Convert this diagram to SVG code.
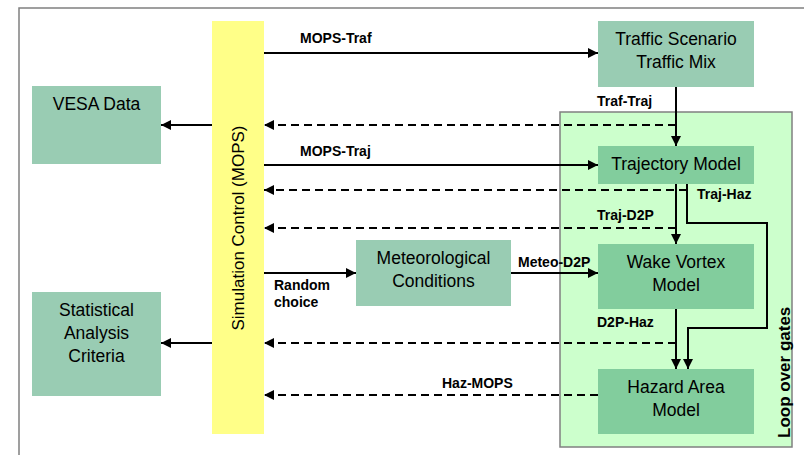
<svg xmlns="http://www.w3.org/2000/svg" width="804" height="455" viewBox="0 0 804 455">
<style>
.box{fill:#99ccb3}
.dark{fill:#82cd9d}
.t{font-family:"Liberation Sans",Arial,sans-serif;font-size:17.5px;fill:#000;text-anchor:middle}
.l{font-family:"Liberation Sans",Arial,sans-serif;font-size:14px;font-weight:bold;fill:#000}
.s{fill:none;stroke:#000;stroke-width:2}
.d{fill:none;stroke:#000;stroke-width:2;stroke-dasharray:8 5}
</style>
<defs>
<marker id="ah" viewBox="0 0 10 10" refX="10" refY="5" markerWidth="5" markerHeight="5" orient="auto" markerUnits="strokeWidth">
<path d="M0,0 L10,5 L0,10 Z" fill="#000"/>
</marker>
</defs>
<rect x="0" y="0" width="804" height="455" fill="#fff"/>
<rect x="19" y="8" width="820" height="470" fill="none" stroke="#808080" stroke-width="1.5"/>
<g id="loop">
<rect x="560" y="112" width="232" height="335" fill="#ccffcc" stroke="#808080" stroke-width="1.5"/>
<text class="l" style="font-size:17px" transform="translate(790,438) rotate(-90)">Loop over gates</text>
</g>
<g id="mops">
<rect x="212" y="21" width="52" height="413" fill="#ffff88"/>
<text class="t" style="font-size:17px" transform="translate(244,228) rotate(-90)">Simulation Control (MOPS)</text>
</g>
<g id="vesa">
<rect class="box" x="32" y="86" width="129" height="78"/>
<text class="t" x="96.5" y="110">VESA Data</text>
</g>
<g id="stat">
<rect class="box" x="32" y="292" width="129" height="104"/>
<text class="t" x="96.5" y="316">Statistical</text>
<text class="t" x="96.5" y="339">Analysis</text>
<text class="t" x="96.5" y="362">Criteria</text>
</g>
<g id="traffic">
<rect class="box" x="598" y="21" width="156" height="66"/>
<text class="t" x="676" y="45">Traffic Scenario</text>
<text class="t" x="676" y="68">Traffic Mix</text>
</g>
<g id="traj">
<rect class="dark" x="598" y="146" width="156" height="38"/>
<text class="t" x="676" y="170">Trajectory Model</text>
</g>
<g id="meteo">
<rect class="box" x="356" y="240" width="155" height="66"/>
<text class="t" x="433.5" y="264">Meteorological</text>
<text class="t" x="433.5" y="287">Conditions</text>
</g>
<g id="wake">
<rect class="dark" x="598" y="244" width="156" height="65"/>
<text class="t" x="676" y="268">Wake Vortex</text>
<text class="t" x="676" y="291">Model</text>
</g>
<g id="hazard">
<rect class="dark" x="598" y="369" width="156" height="65"/>
<text class="t" x="676" y="393">Hazard Area</text>
<text class="t" x="676" y="416">Model</text>
</g>
<g id="connectors">
<path class="s" d="M212,125 H161" marker-end="url(#ah)"/>
<path class="s" d="M212,343 H161" marker-end="url(#ah)"/>
<path class="s" d="M264,53 H598" marker-end="url(#ah)"/>
<path class="s" d="M264,165 H598" marker-end="url(#ah)"/>
<path class="s" d="M264,273 H356" marker-end="url(#ah)"/>
<path class="s" d="M511,273 H598" marker-end="url(#ah)"/>
<path class="s" d="M676,87 V146" marker-end="url(#ah)"/>
<path class="s" d="M676,184 V244" marker-end="url(#ah)"/>
<path class="s" d="M676,309 V369" marker-end="url(#ah)"/>
<path class="s" d="M687,184 V223 H767 V328 H688 V369" marker-end="url(#ah)"/>
<path class="d" d="M676,125 H264" marker-end="url(#ah)"/>
<path class="d" d="M687,190 H264" marker-end="url(#ah)"/>
<path class="d" d="M676,228 H264" marker-end="url(#ah)"/>
<path class="d" d="M676,343 H264" marker-end="url(#ah)"/>
<path class="d" d="M598,395 H264" marker-end="url(#ah)"/>
<text class="l" x="300" y="43">MOPS-Traf</text>
<text class="l" x="300" y="156">MOPS-Traj</text>
<text class="l" x="597" y="106">Traf-Traj</text>
<text class="l" x="697" y="199">Traj-Haz</text>
<text class="l" x="597" y="220">Traj-D2P</text>
<text class="l" x="274" y="290">Random</text>
<text class="l" x="274" y="307">choice</text>
<text class="l" x="518" y="267">Meteo-D2P</text>
<text class="l" x="597" y="327">D2P-Haz</text>
<text class="l" x="442" y="388">Haz-MOPS</text>
</g>
</svg>
